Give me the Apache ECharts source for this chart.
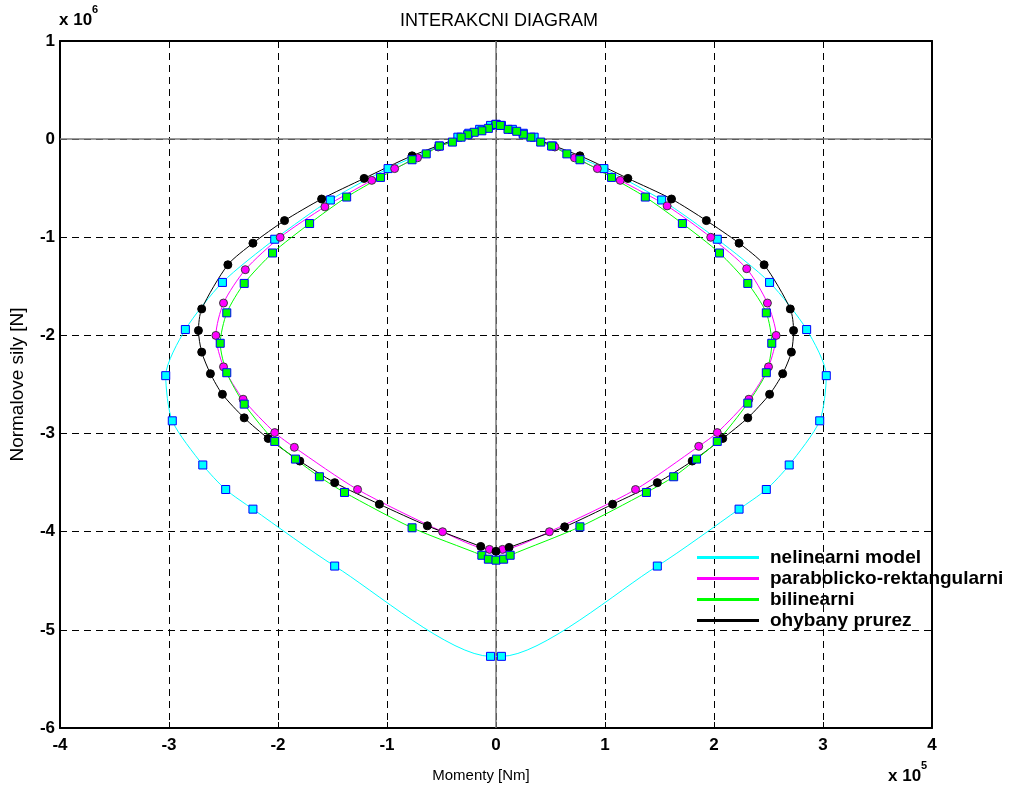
<!DOCTYPE html>
<html lang="cs">
<head>
<meta charset="UTF-8">
<title>INTERAKCNI DIAGRAM</title>
<script src="https://cdn.jsdelivr.net/npm/echarts@6/dist/echarts.min.js"></script>
</head>
<body style="margin:0;background:#fff">
<div id="main" style="width:1014px;height:790px;"></div>
<script type="text/javascript">
// body [M, N] ... M v 10^5 Nm, N v 10^6 N, poradi kolem krivky
var nelinearni = [
    [0, 0.15], [-0.05, 0.14], [-0.15, 0.10], [-0.25, 0.06], [-0.35, 0.02], [-0.52, -0.07],
    [-0.99, -0.30], [-1.52, -0.62], [-2.03, -1.02], [-2.51, -1.46], [-2.85, -1.94], [-3.03, -2.41],
    [-2.97, -2.87], [-2.69, -3.32], [-2.48, -3.57], [-2.23, -3.77], [-1.48, -4.35], [-0.05, -5.27],
    [0.05, -5.27], [1.48, -4.35], [2.23, -3.77], [2.48, -3.57], [2.69, -3.32], [2.97, -2.87],
    [3.03, -2.41], [2.85, -1.94], [2.51, -1.46], [2.03, -1.02], [1.52, -0.62], [0.99, -0.30],
    [0.52, -0.07], [0.35, 0.02], [0.25, 0.06], [0.15, 0.10], [0.05, 0.14], [0, 0.15]
];
var parabolicko = [
    [0, 0.15], [-0.53, -0.08], [-0.72, -0.19], [-0.93, -0.30], [-1.14, -0.42], [-1.57, -0.69],
    [-1.98, -1.00], [-2.30, -1.33], [-2.50, -1.67], [-2.57, -2.00], [-2.50, -2.32], [-2.32, -2.65],
    [-2.03, -2.99], [-1.85, -3.14], [-1.27, -3.57], [-0.49, -4.00], [-0.06, -4.18], [0.06, -4.18],
    [0.49, -4.00], [1.28, -3.57], [1.86, -3.13], [2.03, -2.99], [2.32, -2.65], [2.50, -2.32],
    [2.57, -2.00], [2.49, -1.67], [2.30, -1.32], [1.97, -1.00], [1.57, -0.68], [1.14, -0.42],
    [0.93, -0.30], [0.72, -0.19], [0.54, -0.08], [0, 0.15]
];
var bilinearni = [
    [0, 0.15], [-0.07, 0.11], [-0.13, 0.085], [-0.20, 0.07], [-0.26, 0.045], [-0.32, 0.02],
    [-0.40, -0.03], [-0.52, -0.07], [-0.64, -0.15], [-0.77, -0.21], [-1.06, -0.39], [-1.37, -0.59],
    [-1.71, -0.86], [-2.05, -1.16], [-2.31, -1.47], [-2.47, -1.77], [-2.53, -2.08], [-2.47, -2.38],
    [-2.31, -2.70], [-2.03, -3.08], [-1.84, -3.26], [-1.62, -3.44], [-1.39, -3.60], [-0.77, -3.96],
    [-0.13, -4.24], [-0.07, -4.28], [0, -4.29], [0.07, -4.28], [0.13, -4.24], [0.77, -3.95],
    [1.38, -3.60], [1.63, -3.44], [1.84, -3.26], [2.03, -3.08], [2.31, -2.69], [2.48, -2.38],
    [2.53, -2.08], [2.48, -1.77], [2.31, -1.47], [2.05, -1.16], [1.71, -0.86], [1.37, -0.59],
    [1.06, -0.39], [0.77, -0.21], [0.65, -0.15], [0.51, -0.07], [0.41, -0.03], [0.32, 0.02],
    [0.25, 0.05], [0.19, 0.08], [0.11, 0.10], [0.04, 0.14]
];
var ohybany = [
    [0, 0.15], [-0.77, -0.17], [-1.21, -0.40], [-1.60, -0.61], [-1.94, -0.83], [-2.23, -1.06],
    [-2.46, -1.28], [-2.70, -1.73], [-2.73, -1.95], [-2.70, -2.17], [-2.62, -2.39], [-2.51, -2.60],
    [-2.31, -2.84], [-2.09, -3.05], [-1.80, -3.28], [-1.48, -3.50], [-1.07, -3.72], [-0.63, -3.94],
    [-0.14, -4.15], [0, -4.20], [0.12, -4.16], [0.63, -3.95], [1.07, -3.72], [1.48, -3.50],
    [1.80, -3.28], [2.08, -3.05], [2.31, -2.84], [2.51, -2.60], [2.63, -2.39], [2.71, -2.17],
    [2.73, -1.95], [2.70, -1.73], [2.46, -1.28], [2.23, -1.06], [1.93, -0.83], [1.61, -0.61],
    [1.21, -0.40], [0.77, -0.17], [0, 0.15]
];

var legendNames = ['nelinearni model', 'parabolicko-rektangularni', 'bilinearni', 'ohybany prurez'];
var xTicks = [-4, 4, 1];   // min, max, krok
var yTicks = [-6, 1, 1];

var font = '"Liberation Sans", Arial, sans-serif';

function krivka(name, data, color, symbol, fill, edge) {
    return {
        name: name,
        type: 'line',
        data: data,
        smooth: 0.25,
        symbol: symbol,
        symbolSize: 8,
        showAllSymbol: true,
        lineStyle: { color: color, width: 1 },
        itemStyle: { color: fill, borderColor: edge, borderWidth: 1 }
    };
}

var chart = echarts.init(document.getElementById('main'));
var series = [
    krivka(legendNames[0], nelinearni, '#00ffff', 'rect', '#00ffff', '#0000ff'),
    krivka(legendNames[1], parabolicko, '#ff00ff', 'circle', '#ff00ff', '#3a3a3a'),
    krivka(legendNames[3], ohybany, '#000000', 'circle', '#000000', '#000000'),
    krivka(legendNames[2], bilinearni, '#00ff00', 'rect', '#00ff00', '#0000ff')
];
// nulove osy
series[0].markLine = {
    silent: true,
    symbol: 'none',
    label: { show: false },
    lineStyle: { color: '#7a7a7a', width: 1.5, type: 'solid' },
    data: [{ xAxis: 0 }, { yAxis: 0 }],
    z: 1
};

var option = {
    animation: false,
    backgroundColor: '#ffffff',
    title: {
        text: 'INTERAKCNI DIAGRAM',
        left: 494,
        textAlign: 'center',
        top: 7,
        textStyle: { fontFamily: font, fontSize: 18, fontWeight: 'normal', color: '#000' }
    },
    legend: {
        data: legendNames,
        orient: 'vertical',
        left: 697,
        top: 547,
        padding: 0,
        icon: 'rect',
        itemWidth: 62,
        itemHeight: 3,
        itemGap: 0,
        itemStyle: { borderWidth: 0 },
        textStyle: { fontFamily: font, fontSize: 19, fontWeight: 'bold', color: '#000', lineHeight: 21, padding: [0, 0, 0, 6] }
    },
    grid: { left: 59, right: 82, top: 41, bottom: 62 },
    xAxis: [{
        type: 'value',
        min: xTicks[0], max: xTicks[1], interval: xTicks[2],
        name: 'Momenty [Nm]',
        nameLocation: 'middle',
        nameGap: 40,
        nameTextStyle: { fontFamily: font, fontSize: 15, color: '#000', padding: [0, 30, 0, 0] },
        axisLine: { show: true, onZero: false, lineStyle: { color: '#000', width: 2 } },
        axisTick: { inside: true, length: 6, lineStyle: { color: '#000' } },
        axisLabel: { fontFamily: font, fontSize: 17, fontWeight: 'bold', color: '#000', margin: 9 },
        splitLine: { show: true, lineStyle: { color: '#000', type: [7, 5], width: 1 } }
    }, {
        type: 'value',
        position: 'top',
        min: xTicks[0], max: xTicks[1], interval: xTicks[2],
        axisLine: { show: true, onZero: false, lineStyle: { color: '#000', width: 2 } },
        axisTick: { inside: true, length: 6, lineStyle: { color: '#000' } },
        axisLabel: { show: false },
        splitLine: { show: false }
    }],
    yAxis: [{
        type: 'value',
        min: yTicks[0], max: yTicks[1], interval: yTicks[2],
        name: 'Normalove sily [N]',
        nameLocation: 'middle',
        nameGap: 33,
        nameTextStyle: { fontFamily: font, fontSize: 19, color: '#000' },
        axisLine: { show: true, onZero: false, lineStyle: { color: '#000', width: 2 } },
        axisTick: { inside: true, length: 6, lineStyle: { color: '#000' } },
        axisLabel: { fontFamily: font, fontSize: 17, fontWeight: 'bold', color: '#000', margin: 5 },
        splitLine: { show: true, lineStyle: { color: '#000', type: [7, 5], width: 1 } }
    }, {
        type: 'value',
        position: 'right',
        min: yTicks[0], max: yTicks[1], interval: yTicks[2],
        axisLine: { show: true, onZero: false, lineStyle: { color: '#000', width: 2 } },
        axisTick: { inside: true, length: 6, lineStyle: { color: '#000' } },
        axisLabel: { show: false },
        splitLine: { show: false }
    }],
    graphic: [{
        type: 'text',
        left: 59,
        top: 4,
        style: {
            text: '{b|x 10}{s|6}',
            rich: {
                b: { fontFamily: font, fontSize: 17, fontWeight: 'bold', fill: '#000', padding: [8, 0, 0, 0] },
                s: { fontFamily: font, fontSize: 11, fontWeight: 'bold', fill: '#000', verticalAlign: 'top' }
            }
        }
    }, {
        type: 'text',
        left: 888,
        top: 760,
        style: {
            text: '{b|x 10}{s|5}',
            rich: {
                b: { fontFamily: font, fontSize: 17, fontWeight: 'bold', fill: '#000', padding: [8, 0, 0, 0] },
                s: { fontFamily: font, fontSize: 11, fontWeight: 'bold', fill: '#000', verticalAlign: 'top' }
            }
        }
    }],
    series: series
};

chart.setOption(option);
</script>
</body>
</html>
